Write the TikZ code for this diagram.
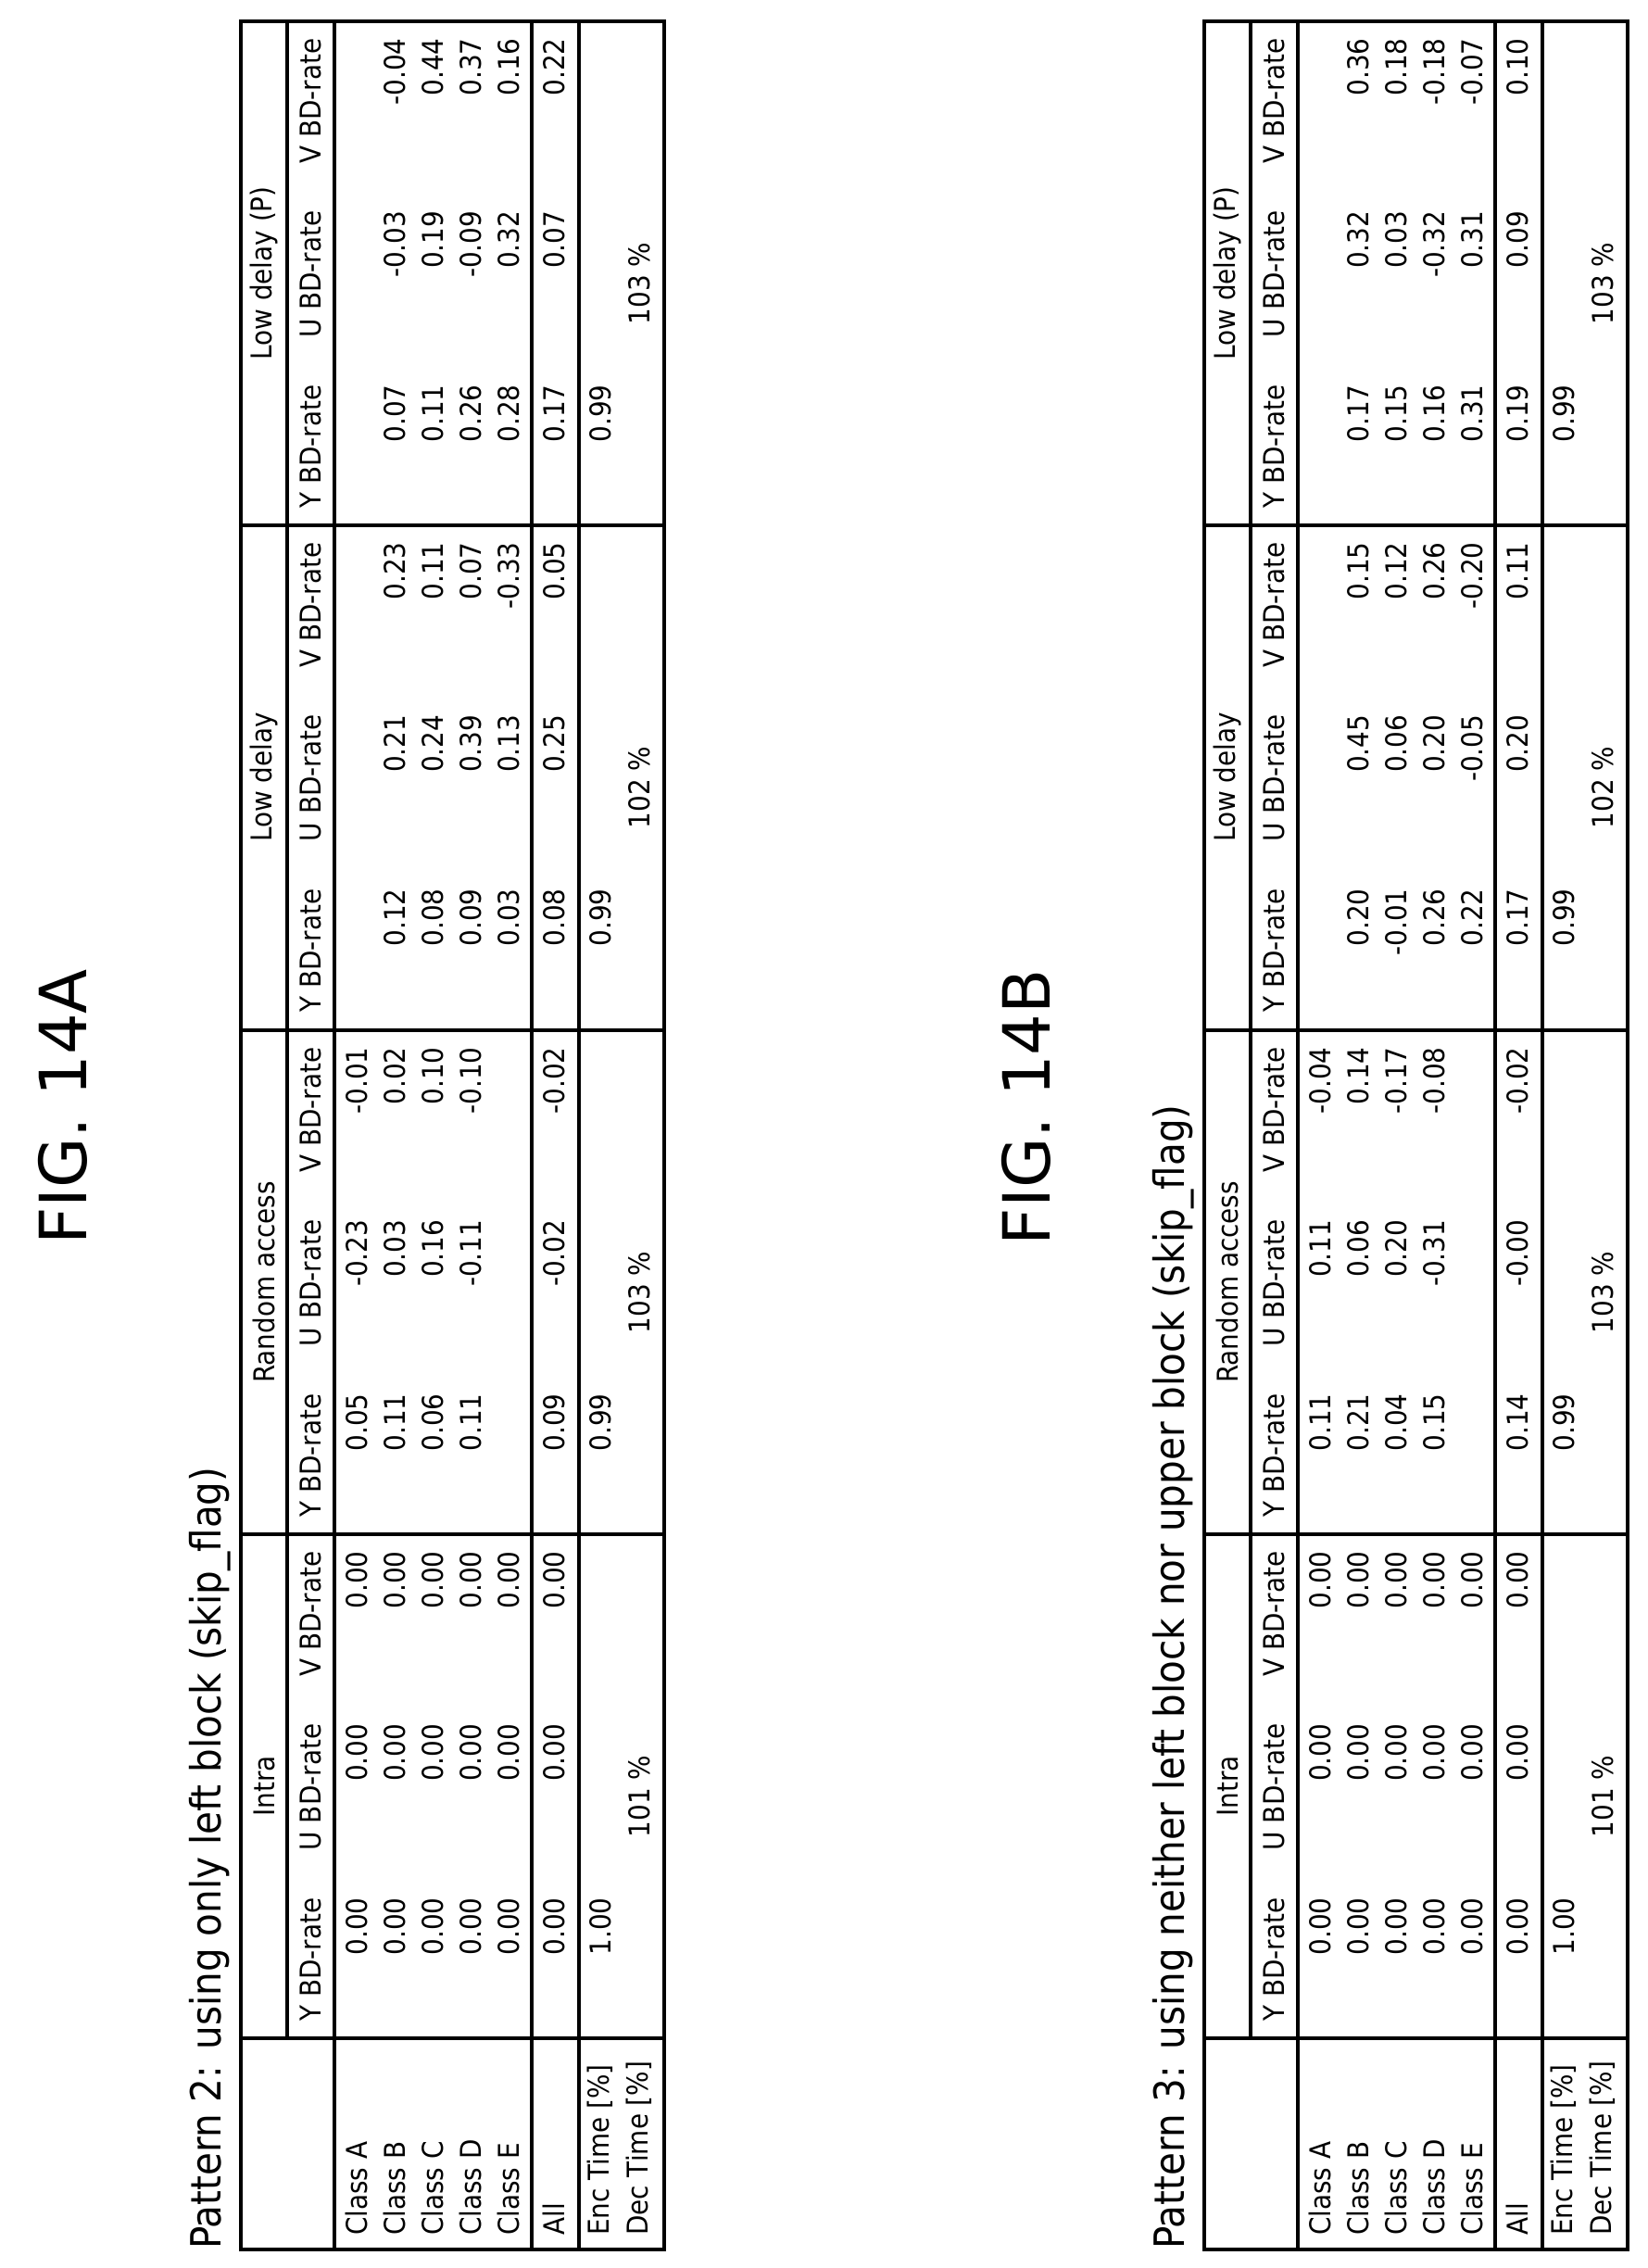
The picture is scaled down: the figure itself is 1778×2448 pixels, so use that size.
\documentclass[tikz,border=0pt]{standalone}
\usepackage{fontspec}
\setmainfont{DejaVu Sans}
\newfontfamily\condfont{DejaVu Sans}[FakeStretch=0.9]
\newcommand\cellfont{\condfont\fontsize{22}{26}\selectfont}
\newcommand\titlefont{\condfont\fontsize{32}{38}\selectfont}
\newcommand\figfont{\fontsize{50}{60}\selectfont}

\tikzset{
    cell/.style={font=\cellfont, inner sep=0pt, rotate=90},
    valcell/.style={cell, anchor=east},
    lblcell/.style={cell, anchor=west},
    rule/.style={line width=3.2pt},
}

% one coding group: top, name, first row, Y list, U list, V list, All Y, All U, All V
\newcommand\datagroup[9]{%
    \node[cell] (gname) at (285,#1+272) {#2};
    \node[cell] (hY) at (335,#1+459) {Y BD-rate};
    \node[cell] (hU) at (335,#1+273) {U BD-rate};
    \node[cell] (hV) at (335,#1+86) {V BD-rate};
    \foreach \v [count=\i from #3] in {#4}
        \node[valcell] at ({385+41*(\i-1)},0 |- hY.east) {\v};
    \foreach \v [count=\i from #3] in {#5}
        \node[valcell] at ({385+41*(\i-1)},0 |- hU.east) {\v};
    \foreach \v [count=\i from #3] in {#6}
        \node[valcell] at ({385+41*(\i-1)},0 |- hV.east) {\v};
    \node[valcell] (allY) at (598,0 |- hY.east) {#7};
    \node[valcell] (allU) at (598,0 |- hU.east) {#8};
    \node[valcell] (allV) at (598,0 |- hV.east) {#9};
}
% times of a group: top, enc, dec
\newcommand\timegroup[3]{%
    \node[valcell] (enc) at (648,0 |- hY.east) {#2};
    \node[cell] (dec) at (690,#1+283) {#3};
}
% frame and row labels of a table
\newcommand\tableframe{%
    \draw[rule] (260,23) rectangle (717,2428);
    \draw[rule] (361,23) -- (361,2428);
    \draw[rule] (574,23) -- (574,2428);
    \draw[rule] (625,23) -- (625,2428);
    \draw[rule] (310,23) -- (310,2200);
    \foreach \t in {567,1112,1656,2200}
        \draw[rule] (260,\t) -- (717,\t);
    \foreach \c [count=\i] in {A,B,C,D,E}
        \node[lblcell] (cls\c) at ({385+41*(\i-1)},2413) {Class \c};
    \node[lblcell] (all) at (598,2413) {All};
    \node[lblcell] (enct) at (648,2413) {Enc Time [\%]};
    \node[lblcell] (dect) at (690,2413) {Dec Time [\%]};
}

\begin{document}
\begin{tikzpicture}[x=0.025cm,y=-0.025cm]
    \useasboundingbox (0,0) rectangle (1778,2448);

    % FIG. 14A
    \node[rotate=90, font=\figfont, inner sep=0pt] (figA) at (68,1195) {FIG. 14A};
    \node[lblcell, font=\titlefont] (titleA) at (227,2428) {Pattern 2: using only left block (skip\_flag)};
    \tableframe
    \datagroup{1656}{Intra}{1}{0.00,0.00,0.00,0.00,0.00}{0.00,0.00,0.00,0.00,0.00}{0.00,0.00,0.00,0.00,0.00}{0.00}{0.00}{0.00}
    \timegroup{1656}{1.00}{101 \%}
    \datagroup{1112}{Random access}{1}{0.05,0.11,0.06,0.11}{-0.23,0.03,0.16,-0.11}{-0.01,0.02,0.10,-0.10}{0.09}{-0.02}{-0.02}
    \timegroup{1112}{0.99}{103 \%}
    \datagroup{567}{Low delay}{2}{0.12,0.08,0.09,0.03}{0.21,0.24,0.39,0.13}{0.23,0.11,0.07,-0.33}{0.08}{0.25}{0.05}
    \timegroup{567}{0.99}{102 \%}
    \datagroup{23}{Low delay (P)}{2}{0.07,0.11,0.26,0.28}{-0.03,0.19,-0.09,0.32}{-0.04,0.44,0.37,0.16}{0.17}{0.07}{0.22}
    \timegroup{23}{0.99}{103 \%}

    % FIG. 14B
    \begin{scope}[shift={(1040,0)}]
        \node[rotate=90, font=\figfont, inner sep=0pt] (figB) at (68,1195) {FIG. 14B};
        \node[lblcell, font=\titlefont] (titleB) at (227,2428) {Pattern 3: using neither left block nor upper block (skip\_flag)};
        \tableframe
        \datagroup{1656}{Intra}{1}{0.00,0.00,0.00,0.00,0.00}{0.00,0.00,0.00,0.00,0.00}{0.00,0.00,0.00,0.00,0.00}{0.00}{0.00}{0.00}
        \timegroup{1656}{1.00}{101 \%}
        \datagroup{1112}{Random access}{1}{0.11,0.21,0.04,0.15}{0.11,0.06,0.20,-0.31}{-0.04,0.14,-0.17,-0.08}{0.14}{-0.00}{-0.02}
        \timegroup{1112}{0.99}{103 \%}
        \datagroup{567}{Low delay}{2}{0.20,-0.01,0.26,0.22}{0.45,0.06,0.20,-0.05}{0.15,0.12,0.26,-0.20}{0.17}{0.20}{0.11}
        \timegroup{567}{0.99}{102 \%}
        \datagroup{23}{Low delay (P)}{2}{0.17,0.15,0.16,0.31}{0.32,0.03,-0.32,0.31}{0.36,0.18,-0.18,-0.07}{0.19}{0.09}{0.10}
        \timegroup{23}{0.99}{103 \%}
    \end{scope}
\end{tikzpicture}
\end{document}
